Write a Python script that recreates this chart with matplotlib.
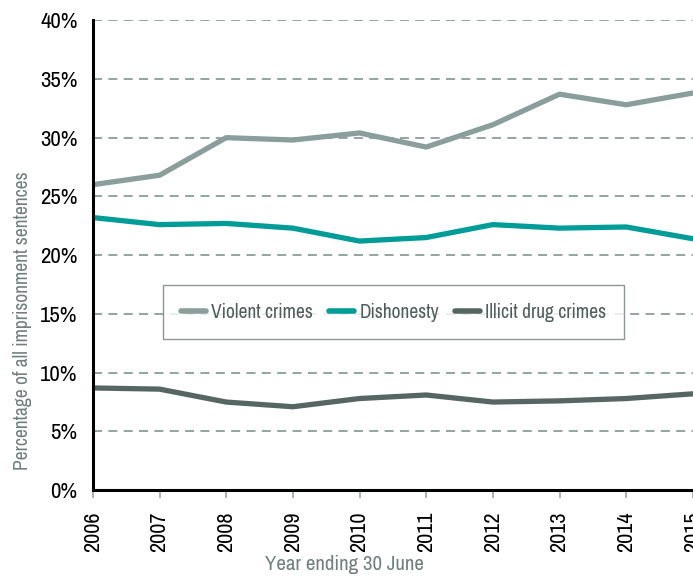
import matplotlib.pyplot as plt
from matplotlib import font_manager

years = [2006, 2007, 2008, 2009, 2010, 2011, 2012, 2013, 2014, 2015]
violent = [26.0, 26.8, 30.0, 29.8, 30.4, 29.2, 31.1, 33.7, 32.8, 33.8]
dishonesty = [23.2, 22.6, 22.7, 22.3, 21.2, 21.5, 22.6, 22.3, 22.4, 21.4]
drugs = [8.7, 8.6, 7.5, 7.1, 7.8, 8.1, 7.5, 7.6, 7.8, 8.2]
yticks = [0, 5, 10, 15, 20, 25, 30, 35, 40]

# look for a condensed face, the original uses a narrow sans
fam, stretch = None, "normal"
for f in font_manager.fontManager.ttflist:
    if "Condensed" in f.name or "Narrow" in f.name:
        fam = f.name
        break
if fam is None:
    for f in font_manager.fontManager.ttflist:
        if str(f.stretch) in ("condensed", "semi-condensed", "extra-condensed") and f.style == "normal":
            fam, stretch = f.name, f.stretch
            break
if fam is None:
    fam = "Roboto"
plt.rcParams["font.family"] = [fam, "DejaVu Sans"]
plt.rcParams["font.stretch"] = stretch

c_violent = "#8a9e9b"
c_dish = "#009c98"
c_drug = "#566663"
c_grid = "#8a9e9b"
c_label = "#6f7f7d"

fig = plt.figure(figsize=(6.93, 5.76), dpi=100)
ax = fig.add_axes([0.134, 0.149, 0.885, 0.816])

ax.plot(years, violent, color=c_violent, lw=3.8, label="Violent crimes", solid_capstyle="round")
ax.plot(years, dishonesty, color=c_dish, lw=3.8, label="Dishonesty", solid_capstyle="round")
ax.plot(years, drugs, color=c_drug, lw=3.8, label="Illicit drug crimes", solid_capstyle="round")

ax.set_xlim(2006, 2015.2)
ax.set_ylim(0, 40)
ax.set_yticks(yticks)
ax.set_yticklabels([f"{v}%" for v in yticks], fontsize=16.5)
ax.set_xticks(years)
ax.set_xticklabels([str(y) for y in years], rotation=90, fontsize=16)
ax.tick_params(axis="y", length=0, pad=11)
ax.tick_params(axis="x", length=6, width=1.2, color="#9aa8a6", pad=9)

for v in yticks[1:]:
    ax.axhline(v, color=c_grid, lw=1.3, ls=(0, (5, 3.5)), zorder=0)

for s in ["top", "right"]:
    ax.spines[s].set_visible(False)
for s in ["left", "bottom"]:
    ax.spines[s].set_linewidth(2.2)
    ax.spines[s].set_color("black")

ax.set_ylabel("Percentage of all imprisonment sentences", fontsize=14, color=c_label)
ax.yaxis.set_label_coords(-0.1, 0.36)
ax.set_xlabel("Year ending 30 June", fontsize=15, color=c_label)
ax.xaxis.set_label_coords(0.41, -0.137)

leg = ax.legend(loc="center", bbox_to_anchor=(0.568, 0.458), bbox_transform=fig.transFigure,
                ncol=3, frameon=True, fancybox=False, fontsize=14, handlelength=1.3,
                handletextpad=0.28, columnspacing=0.8, borderpad=0.9, borderaxespad=0)
leg.get_frame().set_edgecolor("#6f7f7d")
leg.get_frame().set_linewidth(1.0)
for t in leg.get_texts():
    t.set_color("#4f5d5b")
for h in leg.get_lines():
    h.set_linewidth(4)

fig.savefig("out.png", dpi=100)
